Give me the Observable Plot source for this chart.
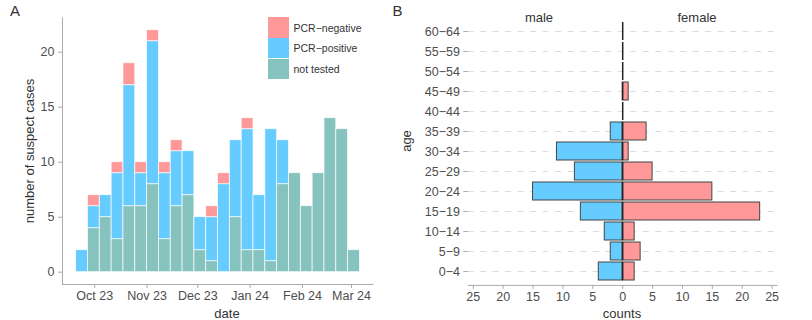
<!DOCTYPE html>
<html><head><meta charset="utf-8">
<script src="https://cdn.jsdelivr.net/npm/d3@7"></script>
<script src="https://cdn.jsdelivr.net/npm/@observablehq/plot@0.6"></script>
<style>
body{margin:0;background:#fff;font-family:"Liberation Sans",Arial,sans-serif;}
#wrap{position:relative;width:812px;height:320px;overflow:hidden;background:#fff;}
#wrap svg{position:absolute;left:0;top:0;background:transparent;}
.lbl{position:absolute;white-space:nowrap;color:#333;font-size:13px;line-height:1;}
.c{transform:translate(-50%,-50%);}
.rot{transform:translate(-50%,-50%) rotate(-90deg);}
.sw{position:absolute;left:268.3px;width:20.7px;height:20.3px;}
.lt{position:absolute;left:293.5px;font-size:10.5px;color:#333;white-space:nowrap;transform:translateY(-50%);line-height:1;}
</style></head><body><div id="wrap"></div>
<script>
// ---- Panel A data: weekly suspect cases ----
const weekStarts = ["2023-09-20","2023-09-27","2023-10-04","2023-10-11","2023-10-18","2023-10-25",
  "2023-11-01","2023-11-08","2023-11-15","2023-11-22","2023-11-29","2023-12-06","2023-12-13",
  "2023-12-20","2023-12-27","2024-01-03","2024-01-10","2024-01-17","2024-01-24","2024-01-31",
  "2024-02-07","2024-02-14","2024-02-21","2024-02-28"];
const notTested   = [0,4,5,3,6,6,8,3,6,7,2,1,0,5,2,2,1,8,9,6,9,14,13,2];
const pcrPositive = [2,2,2,6,11,3,13,6,5,4,3,4,8,7,11,5,12,4,0,0,0,0,0,0];
const pcrNegative = [0,1,0,1,2,1,1,1,1,0,0,1,1,0,1,0,0,0,0,0,0,0,0,0];
const statusNames = ["PCR−negative","PCR−positive","not tested"];
const statusColors = ["#FF9999","#66CCFF","#86C2BE"];
const monthTicks = ["2023-10-01","2023-11-01","2023-12-01","2024-01-01","2024-02-01","2024-03-01"];
const countTicksA = [0,5,10,15,20];

// ---- Panel B data: age pyramid ----
const ageGroups = ["0−4","5−9","10−14","15−19","20−24","25−29","30−34","35−39","40−44","45−49","50−54","55−59","60−64"];
const maleCounts   = [4,2,3,7,15,8,11,2,0,0,0,0,0];
const femaleCounts = [2,3,2,23,15,5,1,4,0,1,0,0,0];
const countTicksB = [-25,-20,-15,-10,-5,0,5,10,15,20,25];

const W = 812, H = 320;
const FONT = '"Liberation Sans", Arial, sans-serif';
const wrap = document.getElementById("wrap");

// long table for stacked bars
const rowsA = [];
weekStarts.forEach((w, i) => {
  const start = new Date(w + "T00:00Z");
  const end = d3.utcDay.offset(start, 7);
  [[statusNames[2], notTested[i]], [statusNames[1], pcrPositive[i]], [statusNames[0], pcrNegative[i]]]
    .forEach(([s, c]) => { if (c > 0) rowsA.push({start, end, status: s, count: c}); });
});

const xDomA = [new Date("2023-09-11T22:00Z"), new Date("2024-03-14T05:00Z")];
const yDomA = [-1.12, 23.13];

const plotA = Plot.plot({
  width: W, height: H,
  marginLeft: 62, marginRight: W - 373.3, marginTop: 17.3, marginBottom: 36,
  style: {fontFamily: FONT, background: "transparent", overflow: "visible"},
  x: {type: "utc", domain: xDomA},
  y: {domain: yDomA},
  color: {domain: statusNames, range: statusColors},
  marks: [
    Plot.rectY(rowsA, {x1: "start", x2: "end", y: "count", fill: "status",
      order: [statusNames[2], statusNames[1], statusNames[0]],
      stroke: "white", strokeWidth: 0.8, strokeOpacity: 0.85}),
    Plot.ruleY([yDomA[0]], {stroke: "#aaa", strokeWidth: 1}),
    Plot.ruleX([xDomA[0]], {stroke: "#aaa", strokeWidth: 1}),
    Plot.axisY({ticks: countTicksA, tickSize: 4, tickPadding: 4, label: null,
      stroke: "#aaa", fill: "#4d4d4d", fontSize: 12.5}),
    Plot.axisX({ticks: monthTicks.map(d => new Date(d + "T00:00Z")), tickFormat: d3.utcFormat("%b %y"),
      tickSize: 4, tickPadding: 3, label: null, stroke: "#aaa", fill: "#4d4d4d", fontSize: 12.5})
  ]
});
wrap.appendChild(plotA);

const maleRows = ageGroups.map((a, i) => ({age: a, count: maleCounts[i]})).filter(d => d.count > 0);
const femaleRows = ageGroups.map((a, i) => ({age: a, count: femaleCounts[i]})).filter(d => d.count > 0);

const plotB = Plot.plot({
  width: W, height: H,
  marginLeft: 467.7, marginRight: W - 776.7, marginTop: 17.1, marginBottom: 35.1,
  style: {fontFamily: FONT, background: "transparent", overflow: "visible"},
  x: {domain: [-25.85, 25.85]},
  y: {type: "band", domain: ageGroups.slice().reverse(), paddingInner: 0.1, paddingOuter: 0.15},
  marks: [
    Plot.ruleY(ageGroups, {y: d => d, stroke: "#dcdcdc", strokeWidth: 1, strokeDasharray: "6,6.5"}),
    Plot.barX(maleRows, {y: "age", x1: 0, x2: d => -d.count, fill: statusColors[1], stroke: "#444", strokeWidth: 1}),
    Plot.barX(femaleRows, {y: "age", x1: 0, x2: d => d.count, fill: statusColors[0], stroke: "#444", strokeWidth: 1}),
    Plot.tickX(ageGroups, {y: d => d, x: () => 0, stroke: "#222", strokeWidth: 1.5}),
    Plot.frame({anchor: "bottom", stroke: "#aaa", strokeWidth: 1}),
    Plot.axisX({ticks: countTicksB, tickFormat: d => Math.abs(d), tickSize: 4, tickPadding: 3, label: null,
      stroke: "#aaa", fill: "#4d4d4d", fontSize: 12.5}),
    Plot.axisY({tickSize: 4.3, tickPadding: 4, label: null, stroke: "#aaa", fill: "#4d4d4d", fontSize: 12.5})
  ]
});
wrap.appendChild(plotB);

// ---- text labels & legend ----
function addLabel(text, x, y, cls, extra) {
  const d = document.createElement("div");
  d.className = "lbl " + cls;
  d.textContent = text;
  d.style.left = x + "px"; d.style.top = y + "px";
  if (extra) Object.assign(d.style, extra);
  wrap.appendChild(d);
}
addLabel("A", 10, 3, "", {fontSize: "15px"});
addLabel("B", 392.5, 3, "", {fontSize: "15px"});
addLabel("number of suspect cases", 29, 150.5, "rot");
addLabel("date", 227, 313, "c");
addLabel("age", 406, 141, "rot");
addLabel("counts", 622, 313, "c");
addLabel("male", 539, 17, "c");
addLabel("female", 697, 17, "c");

const legTops = [17.3, 38, 58.7];
statusNames.forEach((s, i) => {
  const sw = document.createElement("div");
  sw.className = "sw";
  sw.style.top = legTops[i] + "px";
  sw.style.background = statusColors[i];
  wrap.appendChild(sw);
  const t = document.createElement("div");
  t.className = "lt";
  t.textContent = s;
  t.style.top = (legTops[i] + 10.2) + "px";
  wrap.appendChild(t);
});
</script></body></html>
